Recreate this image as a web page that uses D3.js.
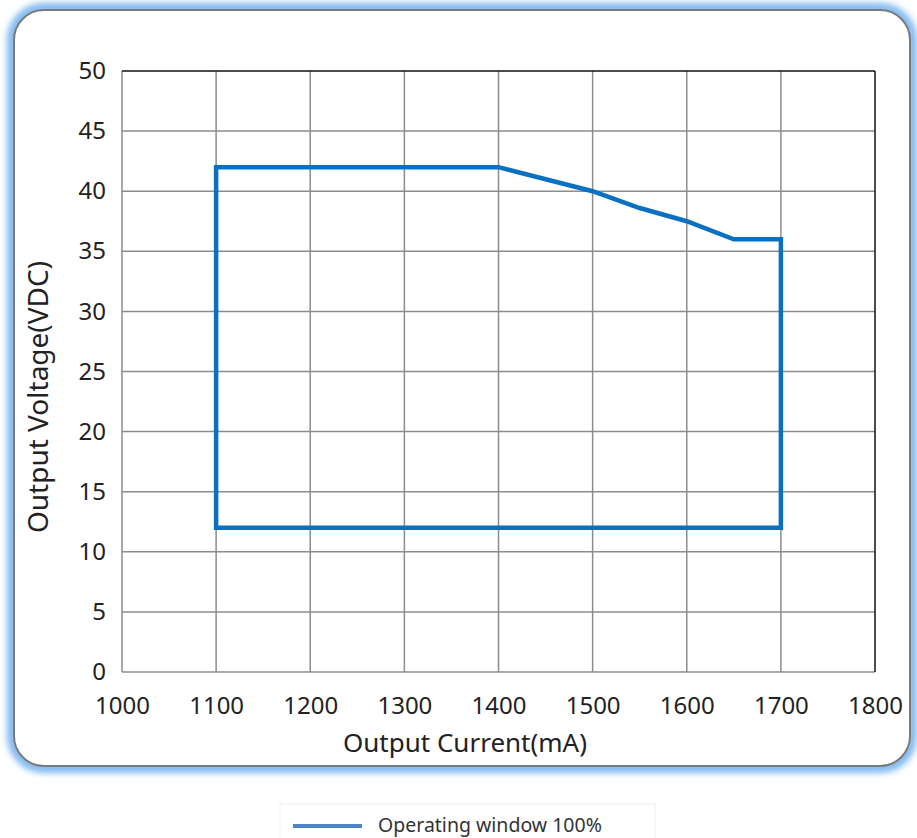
<!DOCTYPE html>
<html>
<head>
<meta charset="utf-8">
<script src="https://cdn.jsdelivr.net/npm/d3@7"></script>
<style>
  body { margin: 0; background: #fff; }
  text { font-family: "Noto Sans", "Open Sans", sans-serif; }
</style>
</head>
<body>
<div id="chart"></div>
<script>
const current = [1100, 1100, 1400, 1500, 1550, 1600, 1650, 1700, 1700];
const voltage = [12, 42, 42, 40, 38.6, 37.5, 36, 36, 12];
const xTicks = [1000, 1100, 1200, 1300, 1400, 1500, 1600, 1700, 1800];
const yTicks = [0, 5, 10, 15, 20, 25, 30, 35, 40, 45, 50];
const seriesName = "Operating window 100%";

const width = 917;
const height = 838;
const margin = { top: 71, right: 42, bottom: 166, left: 122 };

const svg = d3.select("#chart")
    .append("svg")
    .attr("width", width)
    .attr("height", height);

// glow frame
const defs = svg.append("defs");
const glow = defs.append("filter").attr("id", "glow")
    .attr("x", "-5%").attr("y", "-5%").attr("width", "110%").attr("height", "110%");
glow.append("feGaussianBlur").attr("stdDeviation", 3);

svg.append("rect")
    .attr("x", 12).attr("y", 8).attr("width", 900).attr("height", 760)
    .attr("rx", 32)
    .attr("fill", "none")
    .attr("stroke", "#7fb8f0")
    .attr("stroke-width", 10)
    .attr("filter", "url(#glow)");

svg.append("rect")
    .attr("x", 14).attr("y", 10).attr("width", 896).attr("height", 756)
    .attr("rx", 30)
    .attr("fill", "#fff")
    .attr("stroke", "#7a7a7a")
    .attr("stroke-width", 2);

const x = d3.scaleLinear()
    .domain([1000, 1800])
    .range([margin.left, width - margin.right]);

const y = d3.scaleLinear()
    .domain([0, 50])
    .range([height - margin.bottom, margin.top]);

// grid
svg.append("g")
    .selectAll("line")
    .data(xTicks.slice(1, -1))
    .enter().append("line")
    .attr("x1", d => x(d)).attr("x2", d => x(d))
    .attr("y1", y(0)).attr("y2", y(50))
    .attr("stroke", "#8c8c8c")
    .attr("stroke-width", 1.5);

svg.append("g")
    .selectAll("line")
    .data(yTicks.slice(1, -1))
    .enter().append("line")
    .attr("x1", x(1000)).attr("x2", x(1800))
    .attr("y1", d => y(d)).attr("y2", d => y(d))
    .attr("stroke", "#8c8c8c")
    .attr("stroke-width", 1.5);

// plot frame
svg.append("line")
    .attr("x1", x(1000)).attr("x2", x(1000)).attr("y1", y(0)).attr("y2", y(50))
    .attr("stroke", "#8c8c8c").attr("stroke-width", 1.5);
svg.append("line")
    .attr("x1", x(1000)).attr("x2", x(1800)).attr("y1", y(0)).attr("y2", y(0))
    .attr("stroke", "#8c8c8c").attr("stroke-width", 1.5);
svg.append("line")
    .attr("x1", x(1000)).attr("x2", x(1800)).attr("y1", y(50)).attr("y2", y(50))
    .attr("stroke", "#111").attr("stroke-width", 1.5);
svg.append("line")
    .attr("x1", x(1800)).attr("x2", x(1800)).attr("y1", y(0)).attr("y2", y(50))
    .attr("stroke", "#111").attr("stroke-width", 1.5);

// axes
const xAxis = g => g
    .attr("transform", `translate(0,${y(0)})`)
    .call(d3.axisBottom(x).tickValues(xTicks).tickFormat(d3.format("d")).tickSize(0).tickPadding(25))
    .call(g => g.select(".domain").remove());

const yAxis = g => g
    .attr("transform", `translate(${x(1000)},0)`)
    .call(d3.axisLeft(y).tickValues(yTicks).tickFormat(d3.format("d")).tickSize(0).tickPadding(16))
    .call(g => g.select(".domain").remove());

svg.append("g").call(xAxis)
    .selectAll("text")
    .attr("font-size", 24)
    .attr("fill", "#222")
    .style("font-family", "'Noto Sans', sans-serif");

svg.append("g").call(yAxis)
    .selectAll("text")
    .attr("font-size", 24)
    .attr("fill", "#222")
    .style("font-family", "'Noto Sans', sans-serif");

svg.append("text")
    .attr("x", 465).attr("y", 752)
    .attr("text-anchor", "middle")
    .attr("font-size", 26)
    .attr("fill", "#222")
    .text("Output Current(mA)");

svg.append("text")
    .attr("transform", `translate(48,397) rotate(-90)`)
    .attr("text-anchor", "middle")
    .attr("font-size", 28)
    .attr("fill", "#222")
    .text("Output Voltage(VDC)");

// operating window
const pts = current.map((c, i) => ({ c: c, v: voltage[i] }));
const line = d3.line()
    .x(d => x(d.c))
    .y(d => y(d.v));

svg.append("path")
    .datum(pts)
    .attr("fill", "none")
    .attr("stroke", "#0a70c2")
    .attr("stroke-width", 4.5)
    .attr("stroke-linejoin", "miter")
    .attr("d", line(pts) + "Z");

// legend
svg.append("rect")
    .attr("x", 280).attr("y", 804).attr("width", 375).attr("height", 40)
    .attr("fill", "#fff")
    .attr("stroke", "#f0f0f0");

svg.append("line")
    .attr("x1", 293).attr("x2", 362).attr("y1", 826).attr("y2", 826)
    .attr("stroke", "#4a86c8")
    .attr("stroke-width", 4);

svg.append("text")
    .attr("x", 378).attr("y", 832)
    .attr("font-size", 19.5)
    .attr("fill", "#333")
    .text(seriesName);
</script>
</body>
</html>
